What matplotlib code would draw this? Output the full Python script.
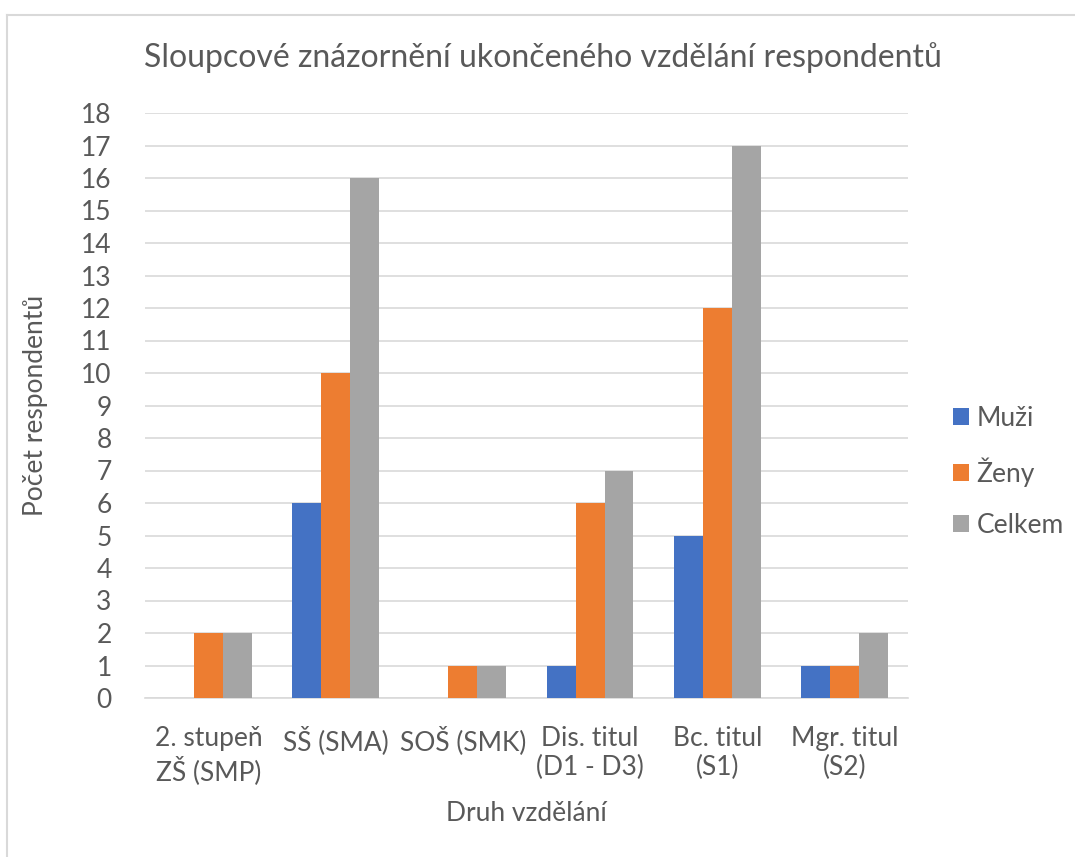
import numpy as np
import matplotlib.pyplot as plt
from matplotlib.lines import Line2D

plt.rcParams['font.family'] = ['Lato', 'DejaVu Sans']

categories = ["2. stupeň\nZŠ (SMP)", "SŠ (SMA)", "SOŠ (SMK)",
              "Dis. titul\n(D1 - D3)", "Bc. titul\n(S1)", "Mgr. titul\n(S2)"]
muzi = [0, 6, 0, 1, 5, 1]
zeny = [2, 10, 1, 6, 12, 1]
celkem = [2, 16, 1, 7, 17, 2]

series = [("Muži", muzi, "#4472C4"),
          ("Ženy", zeny, "#ED7D31"),
          ("Celkem", celkem, "#A5A5A5")]

text_col = "#595959"
grid_col = "#D9D9D9"
fs = 19

fig = plt.figure(figsize=(10.75, 8.57), dpi=100)
ax = fig.add_axes([145 / 1075, 1 - 698 / 857, (908 - 145) / 1075, (698 - 113) / 857])

x = np.arange(len(categories))
w = 0.227
for i, (name, vals, col) in enumerate(series):
    ax.bar(x + (i - 1) * w, vals, w, color=col, label=name, zorder=3)

ax.set_xlim(-0.5, len(categories) - 0.5)
ax.set_ylim(0, 18)
ax.set_yticks(range(0, 19))
ax.set_xticks(x)
ax.set_xticklabels(categories, fontsize=fs, color=text_col, linespacing=1.2)
ax.tick_params(axis='y', labelsize=fs, labelcolor=text_col, length=0, pad=24)
ax.tick_params(axis='x', length=0, pad=20)
ax.grid(axis='y', color=grid_col, linewidth=1.2, zorder=0)
for s in ['top', 'right', 'left']:
    ax.spines[s].set_visible(False)
ax.spines['bottom'].set_color(grid_col)
ax.spines['bottom'].set_linewidth(1.2)

ax.set_ylabel("Počet respondentů", fontsize=fs, color=text_col, labelpad=24)
ax.set_xlabel("Druh vzdělání", fontsize=fs, color=text_col, labelpad=12)
fig.text(0.5 + 5 / 1075, 1 - 58 / 857, "Sloupcové znázornění ukončeného vzdělání respondentů",
         ha='center', va='center', fontsize=23, color=text_col)

leg = ax.legend(loc='center left', bbox_to_anchor=(929 / 1075, 1 - 472 / 857),
                bbox_transform=fig.transFigure, frameon=False, fontsize=fs,
                labelcolor=text_col, handlelength=0.6, handleheight=0.6,
                handletextpad=0.3, labelspacing=1.0)

# light border around the chart
fig.add_artist(Line2D([7 / 1075, 7 / 1075], [0, 1 - 15 / 857],
                      transform=fig.transFigure, color=grid_col, linewidth=1.5))
fig.add_artist(Line2D([7 / 1075, 1], [1 - 15 / 857, 1 - 15 / 857],
                      transform=fig.transFigure, color=grid_col, linewidth=1.5))

fig.savefig("out.png", dpi=100)
